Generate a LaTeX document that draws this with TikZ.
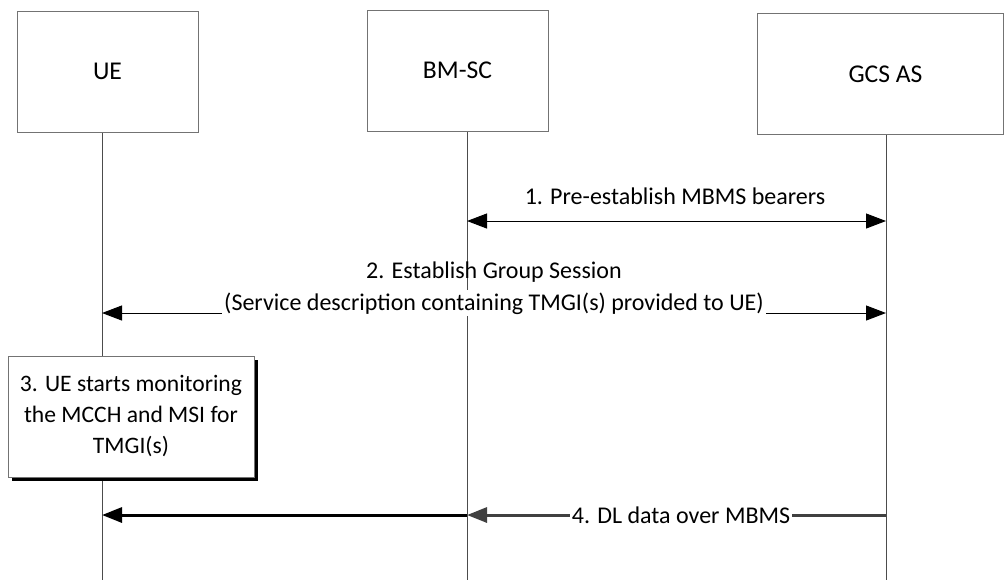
\documentclass[tikz,border=0pt]{standalone}
\usepackage{fontspec}
\setmainfont{Carlito}
\usetikzlibrary{arrows.meta}
\tikzset{
  actor/.style={draw=gray!90!black, line width=0.5pt, fill=white, inner sep=0pt, font=\fontsize{12.8}{15}\selectfont},
  life/.style={draw=black!70, line width=0.4pt},
  msg/.style={line width=0.5pt, {Triangle[length=10pt,width=7.5pt]}-{Triangle[length=10pt,width=7.5pt]}},
  lbl/.style={font=\fontsize{12}{16}\selectfont, inner sep=1pt, align=center},
  notebox/.style={draw=gray!90!black, line width=0.5pt, fill=white, inner sep=0pt, align=center, font=\fontsize{11.8}{15.5}\selectfont},
}
\begin{document}
\begin{tikzpicture}[x=0.5pt,y=-0.5pt]
\useasboundingbox (0,0) rectangle (1004,580);
% lifeline anchors
\coordinate (ueT) at (102,132);
\coordinate (ueB) at (102,580);
\coordinate (bmT) at (467,131);
\coordinate (bmB) at (467,580);
\coordinate (asT) at (886,134);
\coordinate (asB) at (886,580);
\draw[life] (ueT) -- (ueB);
\draw[life] (bmT) -- (bmB);
\draw[life] (asT) -- (asB);
% actor boxes
\node[actor, minimum width=90.5pt, minimum height=60.5pt] (ue) at (107.5,71.5) {UE};
\node[actor, minimum width=90.5pt, minimum height=60.5pt] (bm) at (457.5,70.5) {BM-SC};
\node[actor, minimum width=123pt, minimum height=60.5pt] (as) at (880,73.5) {};
\node[font=\fontsize{12.8}{15}\selectfont] (astxt) at (885.5,74.5) {GCS AS};
% messages coordinates
\coordinate (m1a) at (467,221);
\coordinate (m1b) at (886,221);
\coordinate (m2a) at (102,313);
\coordinate (m2b) at (886,313);
\coordinate (m4a) at (886,515);
\coordinate (m4b) at (467,515);
\coordinate (m4c) at (102,515);
% 1
\draw[msg] (m1a) -- (m1b);
\node[lbl] (l1) at (675,196) {1. Pre-establish MBMS bearers};
% 2
\draw[msg] (m2a) -- (m2b);
\node[lbl] (l2a) at (494,272) {2. Establish Group Session};
\node[lbl, fill=white, anchor=base] (l2b) at (494,310) {(Service description containing TMGI(s) provided to UE)};
% 3
\fill[black] (12,360) rectangle (258,481);
\node[notebox, minimum width=123pt, minimum height=60.5pt] (n3) at (131,416.5) {3. UE starts monitoring\\the MCCH and MSI for\\TMGI(s)};
% 4
\draw[line width=1.5pt, draw=black!75, -{Triangle[length=10pt,width=7.5pt]}] (m4a) -- (m4b);
\draw[line width=1.5pt, draw=black, -{Triangle[length=10pt,width=7.5pt]}] (m4b) -- (m4c);
\node[lbl, fill=white] (l4) at (681,515) {4. DL data over MBMS};
\end{tikzpicture}
\end{document}
